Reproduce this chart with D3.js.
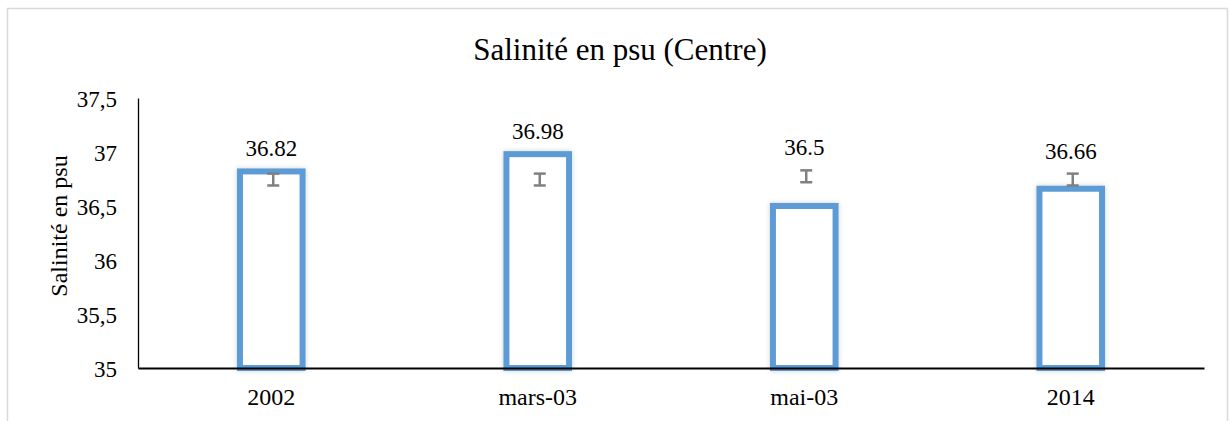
<!DOCTYPE html>
<html>
<head>
<meta charset="utf-8">
<script src="https://cdn.jsdelivr.net/npm/d3@7"></script>
<style>
  body { margin: 0; background: #fff; }
</style>
</head>
<body>
<div id="chart"></div>
<script>
// data
var categories = ["2002", "mars-03", "mai-03", "2014"];
var values = [36.82, 36.98, 36.5, 36.66];
var errLow = [36.69, 36.69, 36.72, 36.69];
var errHigh = [36.80, 36.80, 36.83, 36.80];
var yTicks = [35, 35.5, 36, 36.5, 37, 37.5];

var FONT = "'Liberation Serif', 'Times New Roman', Times, serif";
var W = 1229, H = 421;
var margin = {top: 98, right: 25, bottom: 53, left: 138};
var width = W - margin.left - margin.right;
var height = H - margin.top - margin.bottom;

var svg = d3.select("#chart").append("svg")
  .attr("width", W)
  .attr("height", H)
  .style("font-family", FONT);

// soft shadow like the office chart
var defs = svg.append("defs");
var f = defs.append("filter").attr("id", "glow")
  .attr("x", "-20%").attr("y", "-20%").attr("width", "140%").attr("height", "140%");
f.append("feDropShadow").attr("dx", 0).attr("dy", 0).attr("stdDeviation", 2.5)
  .attr("flood-color", "#000").attr("flood-opacity", 0.18);

// outer frame
svg.append("rect")
  .attr("x", 7.5).attr("y", 8.5)
  .attr("width", W - 9).attr("height", H)
  .attr("fill", "none").attr("stroke", "#d9d9d9").attr("stroke-width", 1.5);

svg.append("text")
  .attr("x", 620).attr("y", 60)
  .attr("text-anchor", "middle")
  .style("font-family", FONT)
  .style("font-size", "31px")
  .text("Salinité en psu (Centre)");

var g = svg.append("g")
  .attr("transform", "translate(" + margin.left + "," + margin.top + ")");

var x = d3.scaleBand().domain(categories).range([0, width]);
var y = d3.scaleLinear().domain([35, 37.5]).range([height, 0]);

// y axis
var yAxis = d3.axisLeft(y).tickValues(yTicks).tickSize(0).tickPadding(21)
  .tickFormat(function(d) { return String(d).replace(".", ","); });
var ya = g.append("g").call(yAxis);
ya.attr("font-family", null);
ya.select(".domain").attr("stroke", "#000").attr("stroke-width", 1.3);
ya.selectAll("text")
  .style("font-family", FONT)
  .style("font-size", "23px")
  .attr("fill", "#000")
  .attr("dy", "0.35em");

svg.append("text")
  .attr("transform", "translate(67," + (margin.top + height / 2 - 7) + ") rotate(-90)")
  .attr("text-anchor", "middle")
  .style("font-family", FONT)
  .style("font-size", "24px")
  .text("Salinité en psu");

// bars
var bw = x.bandwidth() * 0.235;
g.selectAll("rect.bar")
  .data(values)
  .enter().append("rect")
    .attr("class", "bar")
    .attr("x", function(d, i) { return x(categories[i]) + x.bandwidth() / 2 - bw / 2; })
    .attr("y", function(d) { return y(d); })
    .attr("width", bw)
    .attr("height", function(d) { return y(35) - y(d); })
    .attr("fill", "#fff")
    .attr("stroke", "#5b9bd5")
    .attr("stroke-width", 6)
    .attr("filter", "url(#glow)");

// x axis
var xAxis = d3.axisBottom(x).tickSize(0).tickPadding(20);
var xa = g.append("g")
  .attr("transform", "translate(0," + height + ")")
  .call(xAxis);
xa.attr("font-family", null);
xa.select(".domain").attr("stroke", "#000").attr("stroke-width", 2);
xa.selectAll("text")
  .style("font-family", FONT)
  .style("font-size", "24px")
  .attr("fill", "#000");

// error bars
var eb = g.selectAll("g.err")
  .data(categories)
  .enter().append("g")
    .attr("class", "err")
    .attr("transform", function(d) { return "translate(" + (x(d) + x.bandwidth() / 2 + 2) + ",0)"; });
eb.append("line")
  .attr("y1", function(d, i) { return y(errLow[i]); })
  .attr("y2", function(d, i) { return y(errHigh[i]); })
  .attr("stroke", "#808080").attr("stroke-width", 2.5);
eb.append("line")
  .attr("x1", -6).attr("x2", 6)
  .attr("y1", function(d, i) { return y(errLow[i]); })
  .attr("y2", function(d, i) { return y(errLow[i]); })
  .attr("stroke", "#808080").attr("stroke-width", 2.5);
eb.append("line")
  .attr("x1", -6).attr("x2", 6)
  .attr("y1", function(d, i) { return y(errHigh[i]); })
  .attr("y2", function(d, i) { return y(errHigh[i]); })
  .attr("stroke", "#808080").attr("stroke-width", 2.5);

// value labels
g.selectAll("text.val")
  .data(values)
  .enter().append("text")
    .attr("class", "val")
    .attr("x", function(d, i) { return x(categories[i]) + x.bandwidth() / 2; })
    .attr("y", function(d, i) { return Math.min(y(d), y(errHigh[i])) - 15; })
    .attr("text-anchor", "middle")
    .style("font-family", FONT)
    .style("font-size", "23px")
    .text(function(d) { return d; });
</script>
</body>
</html>
